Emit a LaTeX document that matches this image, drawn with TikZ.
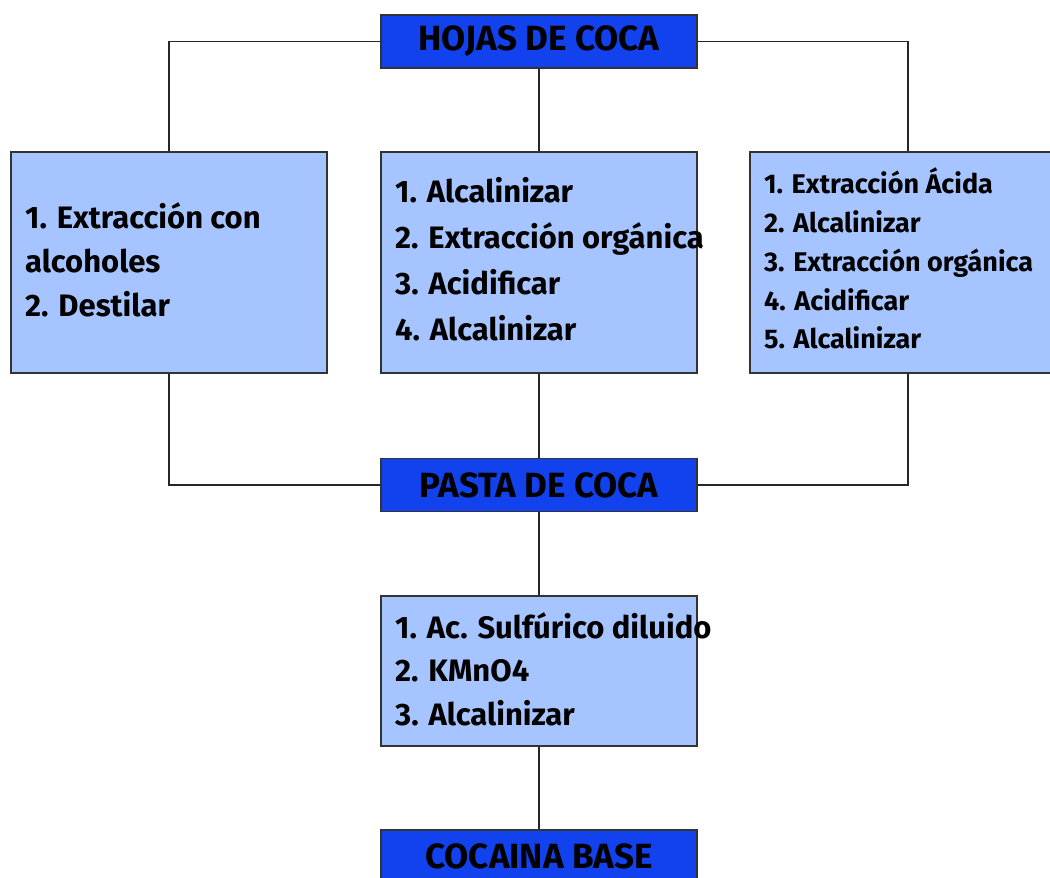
\documentclass[tikz,border=0pt]{standalone}
\usepackage{fontspec}
\setmainfont{Fira Sans}
\definecolor{headblue}{RGB}{18,66,238}
\definecolor{boxblue}{RGB}{166,196,255}
\begin{document}
\begin{tikzpicture}[x=1pt,y=-1pt,
  head/.style={draw=black!80, line width=1.3pt, fill=headblue,
    minimum width=316pt, minimum height=53pt, inner sep=0pt,
    font=\fontsize{35}{40}\selectfont\bfseries},
  stepbox/.style={draw=black!80, line width=1.3pt, fill=boxblue,
    minimum width=316pt, inner sep=0pt},
  item/.style={anchor=base west, inner sep=0pt,
    font=\fontsize{31}{36}\selectfont\bfseries},
  smallitem/.style={item, font=\fontsize{27}{32}\selectfont\bfseries},
  link/.style={line width=1.4pt, black!85}]
\useasboundingbox (0,0) rectangle (1050,878);
\clip (0,0) rectangle (1050,878);
\fill[white] (0,0) rectangle (1050,878);

% process boxes
\node[stepbox, minimum height=221pt] (left)  at (169,262.5) {};
\node[stepbox, minimum height=221pt] (mid)   at (539,262.5) {};
\node[stepbox, minimum height=221pt] (right) at (908,262.5) {};
\node[stepbox, minimum height=150pt] (steps) at (539,671)   {};

% stage headers
\node[head] (hojas) at (539,41.5)  {HOJAS DE COCA};
\node[head] (pasta) at (539,485)   {PASTA DE COCA};
\node[head] (base)  at (539,856.5) {COCAINA BASE};

% connectors
\draw[link] (hojas.west) -| (left.north);
\draw[link] (hojas.east) -| (right.north);
\draw[link] (hojas.south) -- (mid.north);
\draw[link] (left.south) |- (pasta.west);
\draw[link] (right.south) |- (pasta.east);
\draw[link] (mid.south) -- (pasta.north);
\draw[link] (pasta.south) -- (steps.north);
\draw[link] (steps.south) -- (base.north);

% left route
\node[item] (l1) at (25,228) {1. Extracción con};
\node[item] (l2) at (25,272) {alcoholes};
\node[item] (l3) at (25,316) {2. Destilar};

% middle route
\node[item] (m1) at (395,202) {1. Alcalinizar};
\node[item] (m2) at (395,248) {2. Extracción orgánica};
\node[item] (m3) at (395,294) {3. Acidificar};
\node[item] (m4) at (395,340) {4. Alcalinizar};

% right route
\node[smallitem] (r1) at (764,193) {1. Extracción Ácida};
\node[smallitem] (r2) at (764,232) {2. Alcalinizar};
\node[smallitem] (r3) at (764,271) {3. Extracción orgánica};
\node[smallitem] (r4) at (764,310) {4. Acidificar};
\node[smallitem] (r5) at (764,348) {5. Alcalinizar};

% purification
\node[item] (p1) at (395,638) {1. Ac. Sulfúrico diluido};
\node[item] (p2) at (395,681) {2. KMnO4};
\node[item] (p3) at (395,725) {3. Alcalinizar};
\end{tikzpicture}
\end{document}
